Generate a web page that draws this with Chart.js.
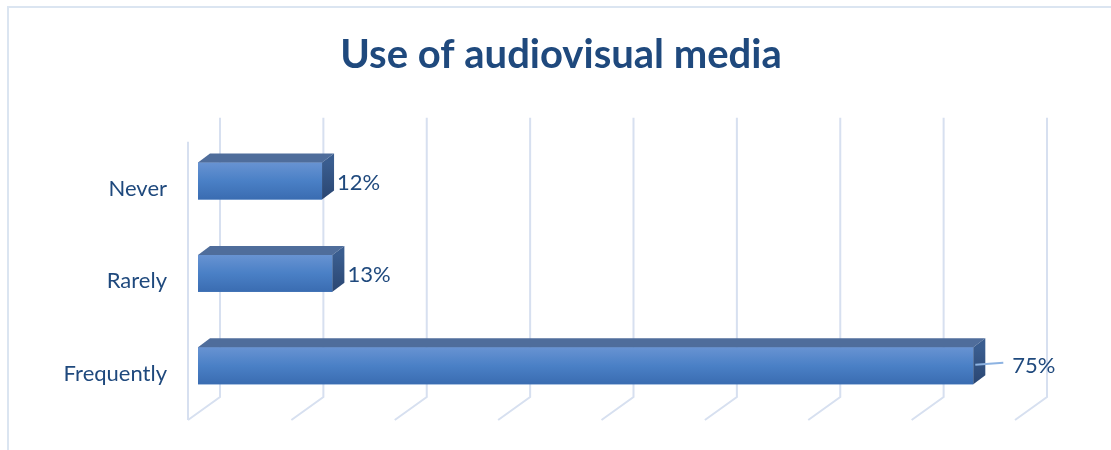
<!DOCTYPE html>
<html>
<head>
<meta charset="utf-8">
<script src="https://cdn.jsdelivr.net/npm/chart.js@4.4.0/dist/chart.umd.min.js"></script>
<style>
  html, body { margin: 0; padding: 0; background: #ffffff; }
  #wrap { width: 1111px; height: 450px; position: relative; }
</style>
</head>
<body>
<div id="wrap"><canvas id="c" width="1111" height="450"></canvas></div>
<script>
const categories = ["Never", "Rarely", "Frequently"];
const values = [12, 13, 75];
const valueLabels = ["12%", "13%", "75%"];
const gridTicks = [0, 10, 20, 30, 40, 50, 60, 70, 80];
const chartTitle = "Use of audiovisual media";

const TEXT_BLUE = "#1f497d";
const GRID = "#d7e0f0";
const DEPTH = { dx: 12, dy: -9 };
const WALL = { back: 22, front: -10, floorDy: 23 };

const framePlugin = {
  id: "frame",
  beforeDraw(chart) {
    const c = chart.ctx;
    c.save();
    c.strokeStyle = "#dbe5f1";
    c.lineWidth = 2;
    c.beginPath();
    c.moveTo(8, 450);
    c.lineTo(8, 7);
    c.lineTo(1111, 7);
    c.stroke();
    c.restore();
  }
};

const grid3dPlugin = {
  id: "grid3d",
  beforeDatasetsDraw(chart) {
    const c = chart.ctx;
    const xs = chart.scales.x;
    const area = chart.chartArea;
    const topBack = area.top - 17;
    const bottomBack = area.bottom - 15;
    c.save();
    c.strokeStyle = GRID;
    c.lineWidth = 2;
    gridTicks.forEach(v => {
      const px = xs.getPixelForValue(v);
      c.beginPath();
      c.moveTo(px + WALL.back, topBack);
      c.lineTo(px + WALL.back, bottomBack);
      c.lineTo(px + WALL.front, bottomBack + WALL.floorDy);
      c.stroke();
    });
    const x0 = xs.getPixelForValue(0) + WALL.front;
    c.beginPath();
    c.moveTo(x0, area.top + 7);
    c.lineTo(x0, bottomBack + WALL.floorDy);
    c.stroke();
    c.restore();
  }
};

const bar3dPlugin = {
  id: "bar3d",
  afterDatasetsDraw(chart) {
    const c = chart.ctx;
    const meta = chart.getDatasetMeta(0);
    c.save();
    meta.data.forEach((bar, i) => {
      const p = bar.getProps(["x", "y", "base", "height"], true);
      const left = p.base, right = p.x;
      const top = p.y - p.height / 2, bottom = p.y + p.height / 2;
      const g = c.createLinearGradient(0, top, 0, bottom);
      g.addColorStop(0, "#6893d2");
      g.addColorStop(0.5, "#4a80c6");
      g.addColorStop(1, "#3a6cb1");
      c.fillStyle = g;
      c.fillRect(left, top, right - left, bottom - top);
      c.fillStyle = "#4f6d9b";
      c.beginPath();
      c.moveTo(left, top);
      c.lineTo(left + DEPTH.dx, top + DEPTH.dy);
      c.lineTo(right + DEPTH.dx, top + DEPTH.dy);
      c.lineTo(right, top);
      c.closePath();
      c.fill();
      const rg = c.createLinearGradient(0, top, 0, bottom);
      rg.addColorStop(0, "#3a5d8f");
      rg.addColorStop(1, "#2a4672");
      c.fillStyle = rg;
      c.beginPath();
      c.moveTo(right, top);
      c.lineTo(right + DEPTH.dx, top + DEPTH.dy);
      c.lineTo(right + DEPTH.dx, bottom + DEPTH.dy);
      c.lineTo(right, bottom);
      c.closePath();
      c.fill();

      c.font = "22px Lato";
      c.fillStyle = TEXT_BLUE;
      c.textBaseline = "middle";
      c.textAlign = "left";
      if (values[i] > 50) {
        c.strokeStyle = "#8db3e2";
        c.lineWidth = 2;
        c.beginPath();
        c.moveTo(right + 2, p.y - 1);
        c.lineTo(right + 30, p.y - 3);
        c.stroke();
        c.fillText(valueLabels[i], right + 39, p.y);
      } else {
        c.fillText(valueLabels[i], right + 15, p.y + 2);
      }
    });
    c.restore();
  }
};

new Chart(document.getElementById("c"), {
  type: "bar",
  data: {
    labels: categories,
    datasets: [{
      data: values,
      backgroundColor: "#4a80c6",
      borderWidth: 0,
      barPercentage: 0.4,
      categoryPercentage: 1.0,
      yAxisID: "y"
    }]
  },
  options: {
    indexAxis: "y",
    responsive: false,
    animation: false,
    devicePixelRatio: 1,
    layout: { padding: { left: 11, right: 0, top: 0, bottom: 38 } },
    plugins: {
      legend: { display: false },
      tooltip: { enabled: false },
      title: {
        display: true,
        text: chartTitle,
        color: TEXT_BLUE,
        font: { family: "Lato", size: 40, weight: "bold", lineHeight: 1.2 },
        padding: { top: 31, bottom: 55.75 }
      }
    },
    scales: {
      x: {
        display: false,
        min: 0,
        max: 80,
        ticks: { stepSize: 10 }
      },
      y: {
        grid: { display: false },
        border: { display: false },
        ticks: {
          color: TEXT_BLUE,
          font: { family: "Lato", size: 22 },
          padding: 23,
          labelOffset: 8
        },
        afterFit(s) { s.width = 187; }
      },
      yRight: {
        type: "category",
        position: "right",
        grid: { display: false },
        border: { display: false },
        ticks: { display: false },
        afterFit(s) { s.width = 86; }
      }
    }
  },
  plugins: [framePlugin, grid3dPlugin, bar3dPlugin]
});
</script>
</body>
</html>
